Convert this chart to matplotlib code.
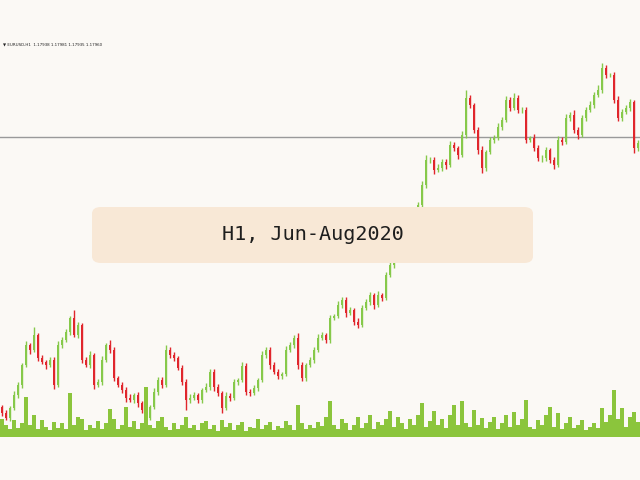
import matplotlib
matplotlib.use("Agg")
import matplotlib.pyplot as plt
from matplotlib.patches import FancyBboxPatch
import numpy as np

# EURUSD H1 closes, Jun-Aug 2020
closes = [
    1.1106, 1.1094, 1.1119, 1.1151, 1.1176, 1.1226, 1.1276, 1.1264, 1.1301, 1.1244,
    1.1234, 1.1226, 1.1239, 1.1176, 1.1276, 1.1289, 1.1309, 1.1344, 1.1301, 1.1326,
    1.1239, 1.1226, 1.1251, 1.1176, 1.1184, 1.1239, 1.1276, 1.1264, 1.1194, 1.1176,
    1.1164, 1.1144, 1.1139, 1.1151, 1.1131, 1.1114, 1.1094, 1.1121, 1.1159, 1.1189,
    1.1176, 1.1264, 1.1251, 1.1244, 1.1219, 1.1184, 1.1139, 1.1144, 1.1151, 1.1139,
    1.1164, 1.1171, 1.1209, 1.1171, 1.1156, 1.1119, 1.1149, 1.1144, 1.1184, 1.1189,
    1.1224, 1.1159, 1.1156, 1.1169, 1.1189, 1.1251, 1.1264, 1.1226, 1.1209, 1.1199,
    1.1204, 1.1264, 1.1276, 1.1294, 1.1226, 1.1194, 1.1226, 1.1239, 1.1264, 1.1294,
    1.1301, 1.1289, 1.1344, 1.1349, 1.1376, 1.1389, 1.1356, 1.1364, 1.1334, 1.1326,
    1.1369, 1.1384, 1.1401, 1.1376, 1.1401, 1.1394, 1.1451, 1.1476, 1.1501, 1.1524,
    1.1536, 1.1561, 1.1580, 1.1605, 1.1626, 1.1676, 1.1739, 1.1739, 1.1714, 1.1719,
    1.1734, 1.1726, 1.1776, 1.1769, 1.1751, 1.1801, 1.1894, 1.1876, 1.1814, 1.1764,
    1.1719, 1.1759, 1.1789, 1.1794, 1.1821, 1.1839, 1.1889, 1.1869, 1.1894, 1.1864,
    1.1864, 1.1789, 1.1794, 1.1769, 1.1744, 1.1744, 1.1764, 1.1739, 1.1726, 1.1789,
    1.1784, 1.1844, 1.1851, 1.1814, 1.1801, 1.1844, 1.1864, 1.1876, 1.1901, 1.1914,
    1.1969, 1.1951, 1.1951, 1.1889, 1.1844, 1.1859, 1.1869, 1.1884, 1.1769, 1.1781,
]
first_open = 1.1120

# wick lengths in pips above / below the body
upper_wick = [
    6, 8, 5, 10, 7, 6, 9, 5, 20, 6,
    8, 5, 7, 6, 10, 8, 6, 5, 20, 8,
    6, 7, 9, 5, 8, 10, 6, 12, 7, 5,
    8, 6, 9, 5, 7, 6, 8, 5, 10, 6,
    7, 12, 6, 8, 5, 7, 6, 9, 8, 6,
    5, 10, 7, 6, 8, 5, 9, 6, 7, 5,
    10, 6, 8, 7, 5, 9, 6, 8, 7, 6,
    5, 10, 8, 6, 12, 7, 5, 8, 6, 9,
    7, 6, 8, 5, 10, 6, 7, 8, 5, 9,
    6, 8, 7, 5, 10, 6, 8, 7, 6, 9,
    8, 7, 6, 5, 8, 10, 12, 6, 7, 9,
    8, 6, 10, 7, 5, 9, 20, 8, 6, 7,
    9, 5, 8, 6, 10, 7, 9, 6, 12, 7,
    6, 8, 5, 9, 7, 6, 8, 5, 7, 10,
    6, 9, 8, 12, 7, 6, 8, 9, 7, 12,
    12, 8, 6, 7, 9, 8, 6, 7, 5, 8,
]
lower_wick = [
    8, 6, 9, 5, 7, 8, 6, 10, 5, 8,
    6, 9, 5, 10, 6, 7, 5, 8, 6, 7,
    9, 6, 8, 10, 5, 7, 6, 8, 9, 6,
    8, 10, 6, 7, 9, 8, 10, 6, 5, 7,
    8, 6, 7, 9, 6, 8, 25, 7, 6, 9,
    7, 6, 8, 9, 7, 12, 6, 8, 5, 7,
    6, 9, 8, 6, 7, 5, 8, 9, 6, 8,
    7, 6, 5, 8, 10, 9, 7, 6, 8, 5,
    6, 8, 7, 6, 5, 7, 9, 6, 8, 7,
    6, 5, 8, 9, 6, 7, 5, 6, 7, 6,
    5, 6, 7, 6, 5, 6, 8, 7, 10, 6,
    7, 9, 6, 8, 9, 6, 7, 8, 9, 10,
    12, 7, 6, 8, 6, 7, 6, 8, 6, 9,
    7, 8, 6, 9, 8, 10, 7, 8, 9, 6,
    7, 6, 8, 7, 9, 6, 7, 6, 8, 6,
    7, 8, 6, 9, 8, 7, 6, 8, 12, 7,
]

# tick volumes
volumes = [
    1800, 1200, 800, 1700, 900, 1400, 4000, 1200, 2200, 800,
    1700, 1000, 700, 1500, 900, 1400, 800, 4400, 1200, 2000,
    1800, 700, 1200, 900, 1600, 800, 1400, 2800, 1800, 800,
    1200, 3000, 1000, 1600, 800, 1400, 5000, 1200, 900, 1600,
    2000, 1000, 700, 1400, 800, 1200, 2000, 900, 1200, 700,
    1400, 1600, 800, 1200, 600, 1700, 1000, 1400, 700, 1200,
    1500, 600, 1000, 900, 1800, 800, 1200, 1500, 700, 1100,
    900, 1600, 1200, 700, 3200, 1400, 800, 1200, 900, 1500,
    1100, 2000, 3600, 1200, 800, 1800, 1400, 700, 1200, 2000,
    900, 1400, 2200, 800, 1500, 1200, 1800, 2600, 1000, 2000,
    1400, 800, 1800, 1200, 2200, 3400, 1000, 1600, 2600, 1200,
    1800, 900, 2200, 3200, 1200, 3600, 1400, 1000, 2700, 1200,
    1900, 900, 1500, 2000, 800, 1400, 2200, 1000, 2500, 1200,
    1800, 3700, 1000, 800, 1700, 1200, 2200, 3000, 1000, 2400,
    800, 1400, 2000, 900, 1200, 1700, 700, 1000, 1400, 900,
    2900, 1500, 2200, 4700, 1800, 2900, 1000, 2000, 2500, 1500,
]

header = "\u25bc EURUSD,H1  1.17938 1.17981 1.17935 1.17960"
last_price = 1.1796
label = "H1, Jun-Aug2020"

bg = "#fbf9f5"
up_col = "#86c94a"
down_col = "#e0262c"
vol_col = "#8bc53c"

closes = np.array(closes)
opens = np.concatenate([[first_open], closes[:-1]])
highs = np.maximum(opens, closes) + np.array(upper_wick) / 10000
lows = np.minimum(opens, closes) - np.array(lower_wick) / 10000
x = np.arange(len(closes))
colors = [up_col if c >= o else down_col for o, c in zip(opens, closes)]

fig = plt.figure(figsize=(6.4, 4.8), dpi=100, facecolor=bg)

ax = fig.add_axes([0, 0, 1, 1])
ax.set_facecolor(bg)
ax.set_xlim(-0.5, len(closes) - 0.5)
# 4000 price units per px... i.e. 1 px = 2.5 pips, last price line at y=137 px
ax.set_ylim(last_price - 343 / 4000, last_price + 137 / 4000)
ax.axis("off")

ax.axhline(last_price, color="#9a9a9a", lw=1, zorder=1)
ax.vlines(x, lows, highs, colors=colors, lw=1, zorder=2)
ax.bar(x, np.abs(closes - opens), bottom=np.minimum(opens, closes),
       width=0.5, color=colors, linewidth=0, zorder=3)

box = FancyBboxPatch((92 / 640, 217 / 480), 441 / 640, 56 / 480,
                     boxstyle="round,pad=0,rounding_size=0.014",
                     transform=ax.transAxes, facecolor="#f8e8d6",
                     edgecolor="none", zorder=10)
ax.add_patch(box)
ax.text(312.5 / 640, 1 - 235 / 480, label, transform=ax.transAxes,
        ha="center", va="center", fontsize=14.5, family="DejaVu Sans Mono",
        color="#1e1e1e", zorder=11)

vax = fig.add_axes([0, 43 / 480, 1, 60 / 480])
vax.patch.set_alpha(0)
vax.set_xlim(-0.5, len(closes) - 0.5)
vax.set_ylim(0, 6000)
vax.axis("off")
vax.bar(x, volumes, width=1.0, color=vol_col, linewidth=0)

fig.text(3 / 640, 1 - 45 / 480, header, fontsize=2.9, color="#222222",
         ha="left", va="center")

fig.savefig("out.png", dpi=100, facecolor=bg)
